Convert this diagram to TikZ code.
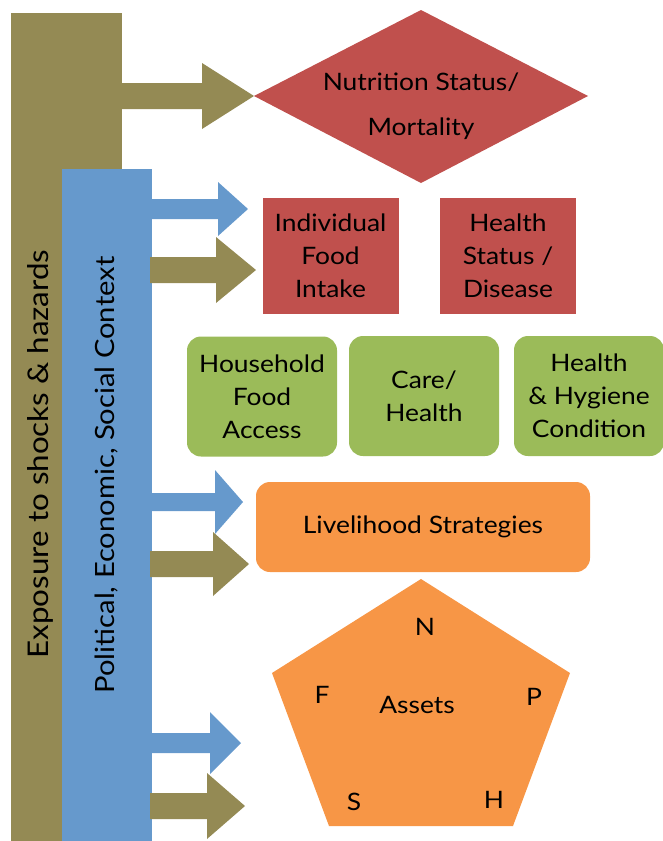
\documentclass[tikz,border=0pt]{standalone}
\usepackage{fontspec}
\setmainfont[FakeStretch=1.1]{Lato}
\usetikzlibrary{shapes.geometric}
\definecolor{olivebar}{HTML}{948A54}
\definecolor{bluebar}{HTML}{6699CC}
\definecolor{redbox}{HTML}{C0504D}
\definecolor{greenbox}{HTML}{9BBB59}
\definecolor{orangebox}{HTML}{F79646}
% block arrow: colour, shaft start x, head start x, tip x, mid y, shaft half, head half
\newcommand{\blockarr}[7]{%
  \fill[#1] (#2,#5-#6) -- (#3,#5-#6) -- (#3,#5-#7) -- (#4,#5) -- (#3,#5+#7)
    -- (#3,#5+#6) -- (#2,#5+#6) -- cycle;}
\tikzset{
  lbl/.style={font=\fontsize{24}{33}\selectfont, text=black, align=center},
  barlbl/.style={text=black, rotate=90, font=\fontsize{28.5}{32}\selectfont},
  redstyle/.style={fill=redbox, minimum width=136pt, minimum height=116pt, inner sep=0pt, lbl},
  greenstyle/.style={fill=greenbox, rounded corners=14pt, minimum width=150pt, minimum height=120pt, inner sep=0pt, lbl},
}
\begin{document}
\begin{tikzpicture}[x=1pt, y=-1pt]
\useasboundingbox (0,0) rectangle (662,841);
% outer and inner context bars
\fill[olivebar] (11,13) rectangle (122,841);
\blockarr{olivebar}{120}{202}{254}{96}{13}{33}
\fill[bluebar] (62,169) rectangle (152,841);
% arrows leaving the context bars
\blockarr{bluebar}{150}{218}{248}{209}{10}{27}
\blockarr{olivebar}{150}{216}{256}{270}{13}{33}
\blockarr{bluebar}{150}{215}{243}{502}{9}{32}
\blockarr{olivebar}{150}{213}{249}{564}{13}{32}
\blockarr{bluebar}{150}{210}{241}{743}{10}{31}
\blockarr{olivebar}{150}{207}{245}{806}{13}{33}
% vertical labels
\node[barlbl] (expo) at (40,454) {Exposure to shocks \& hazards};
\node[barlbl, font=\fontsize{26.5}{32}\selectfont] (pol) at (107,475) {Political, Economic, Social Context};
% outcome
\fill[redbox] (254,96) -- (421,10) -- (588,96) -- (421,183) -- cycle;
\node[lbl, font=\fontsize{24}{45}\selectfont] (nut) at (421,106) {Nutrition Status/\\Mortality};
% immediate causes
\node[redstyle] (intake) at (330.5,256) {Individual\\Food\\Intake};
\node[redstyle] (health) at (508,256) {Health\\Status /\\Disease};
% underlying causes
\node[greenstyle] (hfa) at (262,396.5) {Household\\Food\\Access};
\node[greenstyle] (care) at (424,396) {Care/\\Health};
\node[greenstyle] (hyg) at (589,396) {Health\\\& Hygiene\\Condition};
% livelihoods
\node[fill=orangebox, rounded corners=14pt, minimum width=334pt, minimum height=90pt, inner sep=0pt, lbl] (liv) at (423,527) {Livelihood Strategies};
% asset pentagon
\fill[orangebox] (421,579) -- (570,673) -- (513,826) -- (329,826) -- (272,673) -- cycle;
\node[lbl] (assets) at (417,705) {Assets};
\node[lbl] (n) at (425,627) {N};
\node[lbl] (f) at (322,695) {F};
\node[lbl] (p) at (534,697) {P};
\node[lbl] (s) at (354,802) {S};
\node[lbl] (h) at (494,800) {H};
\end{tikzpicture}
\end{document}
